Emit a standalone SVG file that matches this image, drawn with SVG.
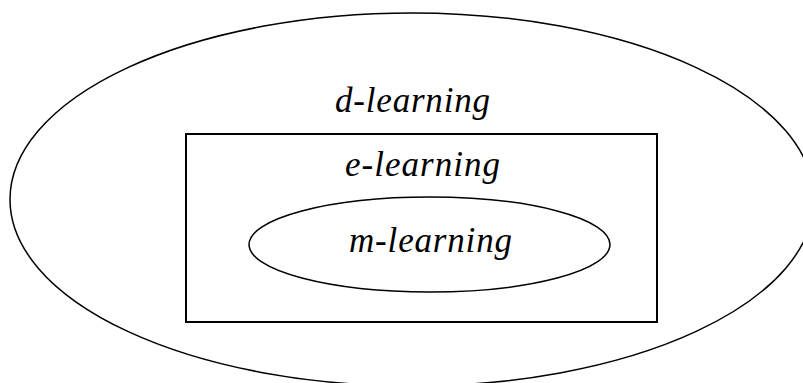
<svg xmlns="http://www.w3.org/2000/svg" width="803" height="383" viewBox="0 0 803 383">
<style>
.shape{fill:none;stroke:#000;}
</style>
<rect x="0" y="0" width="803" height="383" fill="#fff"/>
<g id="d-learning">
<ellipse class="shape" cx="412" cy="199.5" rx="402" ry="186.5" stroke-width="1.5"/>
<text x="412.5" y="112" font-family="Liberation Serif, serif" font-style="italic" font-size="35" text-anchor="middle" textLength="155">d-learning</text>
</g>
<g id="e-learning">
<rect class="shape" x="186" y="134" width="471" height="188" stroke-width="2"/>
<text x="422.5" y="176" font-family="Liberation Serif, serif" font-style="italic" font-size="35" text-anchor="middle" textLength="155">e-learning</text>
</g>
<g id="m-learning">
<ellipse class="shape" cx="429.5" cy="244.5" rx="180.5" ry="47.5" stroke-width="1.5"/>
<text x="430.5" y="252" font-family="Liberation Serif, serif" font-style="italic" font-size="35" text-anchor="middle" textLength="163">m-learning</text>
</g>
<g id="connectors"></g>
</svg>
